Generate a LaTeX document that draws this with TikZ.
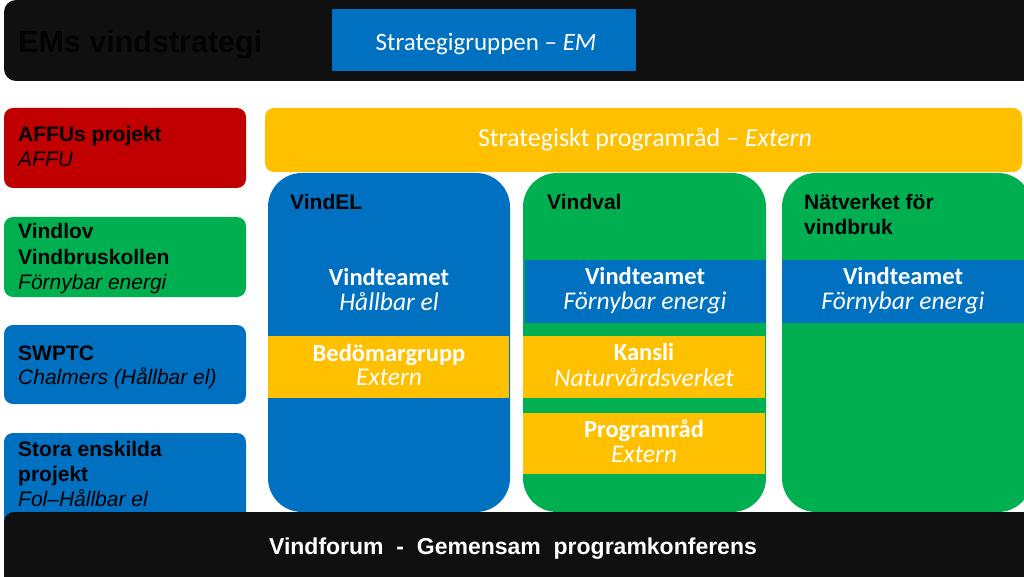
\documentclass[tikz,border=0pt]{standalone}
\usepackage{fontspec}
\setmainfont{Liberation Sans}
\newfontfamily\calfont{Carlito}
\definecolor{eblue}{HTML}{0070C0}
\definecolor{egreen}{HTML}{00B050}
\definecolor{eyellow}{HTML}{FFC000}
\definecolor{ered}{HTML}{C00000}
\definecolor{ebar}{HTML}{101010}
\definecolor{etitle}{HTML}{030303}
\begin{document}
\begin{tikzpicture}[x=1pt,y=-1pt,
  box/.style={shape=rectangle,inner sep=0pt,outer sep=0pt,anchor=north west,draw=none},
  lft/.style={anchor=base west,inner sep=0pt,text=black,font=\fontsize{21}{25}\selectfont},
  ctr/.style={anchor=base,inner sep=0pt,text=white},
  cb/.style={ctr,font=\calfont\bfseries\fontsize{24.5}{28}\selectfont},
  ci/.style={ctr,font=\calfont\itshape\fontsize{25.5}{29}\selectfont},
  ttl/.style={anchor=base west,inner sep=0pt,text=black,font=\bfseries\fontsize{21}{25}\selectfont}
]
\useasboundingbox (0,0) rectangle (1024,577);
\clip (0,0) rectangle (1024,577);
\fill[white] (0,0) rectangle (1024,577);

% top bar
\node[box,fill=ebar,minimum width=1040pt,minimum height=81pt,rounded corners=12pt] (topbar) at (4,0) {};
\node[anchor=base west,inner sep=0pt,text=etitle,font=\bfseries\fontsize{30.5}{35}\selectfont] (emtitle) at (18,53) {EMs vindstrategi};
\node[box,fill=eblue,minimum width=304pt,minimum height=62pt] (sgbox) at (332,9) {};
\node[ctr,font=\calfont\fontsize{25}{30}\selectfont] (sgtext) at (486,51) {Strategigruppen – \textit{EM}};

% left column
\node[box,fill=ered,minimum width=242pt,minimum height=80pt,rounded corners=9pt] (affu) at (4,108) {};
\node[ttl] (affu1) at (18,142) {AFFUs projekt};
\node[lft,font=\itshape\fontsize{21}{25}\selectfont] (affu2) at (18,167) {AFFU};

\node[box,fill=egreen,minimum width=242pt,minimum height=80pt,rounded corners=9pt] (vindlov) at (4,217) {};
\node[ttl] (vl1) at (18,239) {Vindlov};
\node[ttl] (vl2) at (18,264) {Vindbruskollen};
\node[lft,font=\itshape\fontsize{21}{25}\selectfont] (vl3) at (18,289) {Förnybar energi};

\node[box,fill=eblue,minimum width=242pt,minimum height=79pt,rounded corners=9pt] (swptc) at (4,325) {};
\node[ttl] (sw1) at (18,360) {SWPTC};
\node[lft,font=\itshape\fontsize{21}{25}\selectfont] (sw2) at (18,384) {Chalmers (Hållbar el)};

\node[box,fill=eblue,minimum width=242pt,minimum height=95pt,rounded corners=9pt] (stora) at (4,433) {};
\node[ttl] (st1) at (18,456) {Stora enskilda};
\node[ttl] (st2) at (18,481) {projekt};
\node[lft,font=\itshape\fontsize{21}{25}\selectfont] (st3) at (18,506) {Fol–Hållbar el};

% strategic programme council
\node[box,fill=eyellow,minimum width=757pt,minimum height=64pt,rounded corners=9pt] (spr) at (265,108) {};
\node[ctr,font=\calfont\fontsize{26}{30}\selectfont] (sprtext) at (645,147) {Strategiskt programråd – \textit{Extern}};

% VindEL column
\node[box,fill=eblue,minimum width=242pt,minimum height=339pt,rounded corners=34pt] (vindel) at (268,173) {};
\node[ttl] (vindelt) at (290,210) {VindEL};
\node[cb] (ve1) at (389,285) {Vindteamet};
\node[ci] (ve2) at (389,310) {Hållbar el};
\node[box,fill=eyellow,minimum width=241pt,minimum height=62pt] (bedband) at (268,336) {};
\node[cb] (bd1) at (389,361) {Bedömargrupp};
\node[ci] (bd2) at (389,385) {Extern};

% Vindval column
\node[box,fill=egreen,minimum width=243pt,minimum height=339pt,rounded corners=34pt] (vindval) at (523,173) {};
\node[ttl] (vindvalt) at (547,210) {Vindval};
\node[box,fill=eblue,minimum width=241pt,minimum height=63pt] (vvband) at (525,260) {};
\node[cb] (vv1) at (645,284) {Vindteamet};
\node[ci] (vv2) at (645,309) {Förnybar energi};
\node[box,fill=eyellow,minimum width=242pt,minimum height=62pt] (kansliband) at (523,336) {};
\node[cb] (ka1) at (644,360) {Kansli};
\node[ci] (ka2) at (644,386) {Naturvårdsverket};
\node[box,fill=eyellow,minimum width=242pt,minimum height=61pt] (prband) at (523,413) {};
\node[cb] (pr1) at (644,437) {Programråd};
\node[ci] (pr2) at (644,462) {Extern};

% Nätverket column
\node[box,fill=egreen,minimum width=250pt,minimum height=339pt,rounded corners=34pt] (natverk) at (782,173) {};
\node[ttl] (nv1) at (804,210) {Nätverket för};
\node[ttl] (nv2) at (804,235) {vindbruk};
\node[box,fill=eblue,minimum width=250pt,minimum height=63pt] (nvband) at (782,260) {};
\node[cb] (nvt1) at (903,284) {Vindteamet};
\node[ci] (nvt2) at (903,309) {Förnybar energi};

% bottom bar
\node[box,fill=ebar,minimum width=1040pt,minimum height=80pt,rounded corners=10pt] (botbar) at (4,512) {};
\node[anchor=base,inner sep=0pt,text=white,font=\bfseries\fontsize{23}{27}\selectfont] (vindforum) at (513,554) {Vindforum\ \ -\ \ Gemensam\ \ programkonferens};
\end{tikzpicture}
\end{document}
